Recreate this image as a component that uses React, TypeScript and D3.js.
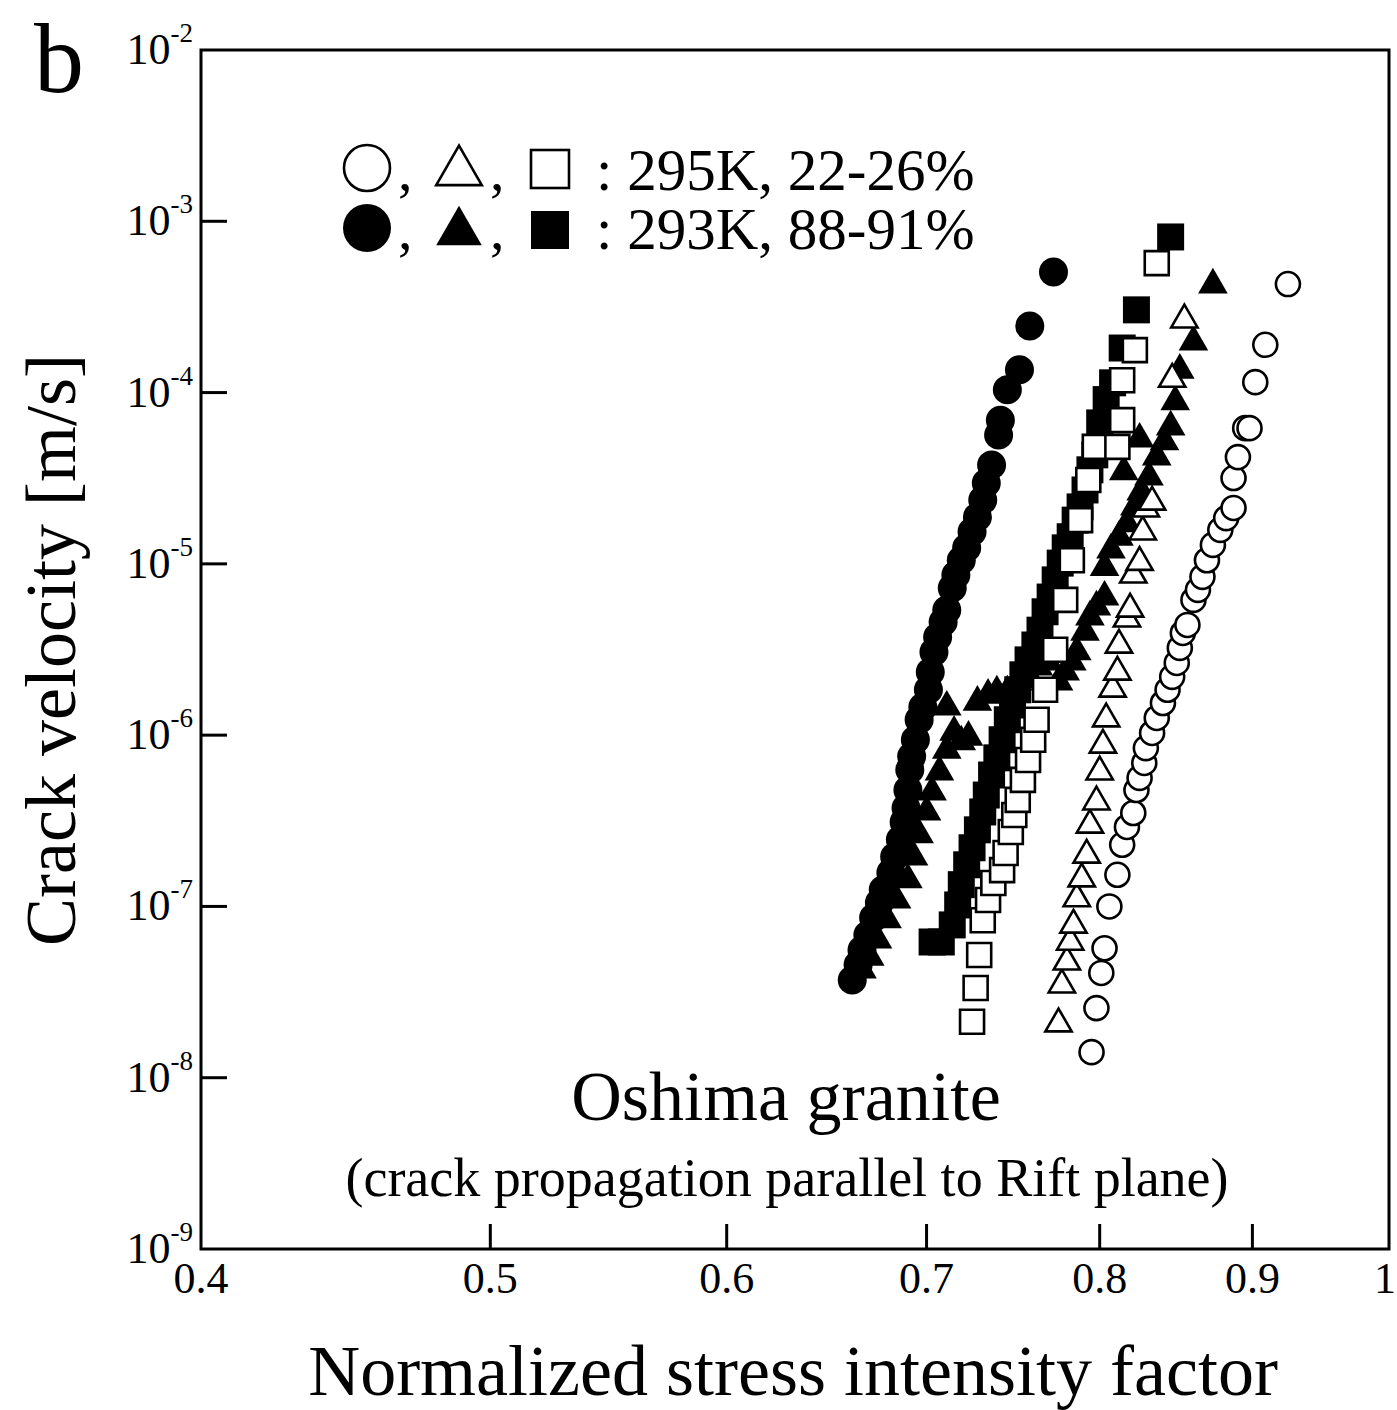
import React from "react";
import * as d3 from "d3";

// ---- Data (x: normalized stress intensity factor, y: crack velocity [m/s]) ----
const openCircles: [number, number][] = [
  [0.795, 1.41e-8], [0.798, 2.55e-8], [0.801, 4.09e-8], [0.803, 5.7e-8], [0.806, 1.0e-7],
  [0.811, 1.53e-7], [0.814, 2.29e-7], [0.817, 2.91e-7], [0.821, 3.51e-7], [0.823, 4.78e-7],
  [0.825, 5.63e-7], [0.828, 6.88e-7], [0.829, 8.4e-7], [0.833, 1.03e-6], [0.836, 1.26e-6],
  [0.84, 1.54e-6], [0.843, 1.84e-6], [0.846, 2.19e-6], [0.849, 2.64e-6], [0.851, 3.23e-6],
  [0.853, 3.95e-6], [0.856, 4.4e-6], [0.86, 6.16e-6], [0.863, 7.05e-6], [0.866, 8.4e-6],
  [0.869, 1.05e-5], [0.873, 1.29e-5], [0.878, 1.58e-5], [0.882, 1.85e-5], [0.887, 2.12e-5],
  [0.887, 3.17e-5], [0.89, 4.2e-5], [0.895, 6.2e-5], [0.898, 6.2e-5], [0.902, 1.15e-4],
  [0.909, 1.9e-4], [0.925, 4.3e-4],
];

const openTriangles: [number, number][] = [
  [0.775, 2.12e-8], [0.777, 3.58e-8], [0.78, 4.87e-8], [0.782, 6.36e-8], [0.784, 8.0e-8],
  [0.786, 1.14e-7], [0.789, 1.49e-7], [0.792, 2.05e-7], [0.794, 3.07e-7], [0.798, 4.19e-7],
  [0.8, 6.27e-7], [0.802, 9.0e-7], [0.804, 1.28e-6], [0.808, 1.91e-6], [0.811, 2.4e-6],
  [0.812, 3.45e-6], [0.817, 4.9e-6], [0.819, 5.6e-6], [0.821, 8.85e-6], [0.825, 1.05e-5],
  [0.827, 1.58e-5], [0.829, 2.15e-5], [0.833, 2.36e-5], [0.846, 1.23e-4], [0.854, 2.73e-4],
];

const openSquares: [number, number][] = [
  [0.725, 2.12e-8], [0.727, 3.34e-8], [0.729, 5.2e-8], [0.731, 8.3e-8], [0.734, 1.09e-7],
  [0.737, 1.37e-7], [0.742, 1.63e-7], [0.744, 2.05e-7], [0.747, 2.72e-7], [0.749, 3.42e-7],
  [0.751, 4.19e-7], [0.754, 5.48e-7], [0.757, 7.16e-7], [0.76, 9.4e-7], [0.762, 1.23e-6],
  [0.767, 1.84e-6], [0.773, 3.15e-6], [0.779, 6.16e-6], [0.783, 1.05e-5], [0.788, 1.8e-5],
  [0.793, 3.09e-5], [0.797, 4.82e-5], [0.811, 4.82e-5], [0.814, 6.9e-5], [0.814, 1.18e-4],
  [0.822, 1.77e-4], [0.836, 5.7e-4],
];

const filledCircles: [number, number][] = [
  [0.661, 3.72e-8], [0.664, 4.56e-8], [0.666, 5.57e-8], [0.669, 6.82e-8], [0.672, 8.6e-8],
  [0.675, 1.05e-7], [0.677, 1.25e-7], [0.681, 1.57e-7], [0.683, 1.95e-7], [0.686, 2.45e-7],
  [0.688, 3.11e-7], [0.689, 3.76e-7], [0.69, 4.78e-7], [0.691, 6.27e-7], [0.692, 7.5e-7],
  [0.694, 9.4e-7], [0.696, 1.23e-6], [0.698, 1.46e-6], [0.701, 1.84e-6], [0.702, 2.34e-6],
  [0.704, 3.06e-6], [0.706, 3.74e-6], [0.709, 4.58e-6], [0.711, 5.38e-6], [0.714, 7.24e-6],
  [0.716, 8.6e-6], [0.719, 1.05e-5], [0.722, 1.24e-5], [0.725, 1.54e-5], [0.728, 1.88e-5],
  [0.731, 2.36e-5], [0.733, 2.97e-5], [0.736, 3.78e-5], [0.74, 5.66e-5], [0.741, 6.9e-5],
  [0.745, 1.04e-4], [0.752, 1.36e-4], [0.758, 2.45e-4], [0.772, 5.06e-4],
];

const filledTriangles: [number, number][] = [
  [0.666, 4.38e-8], [0.67, 5.2e-8], [0.674, 6.55e-8], [0.679, 8.6e-8], [0.684, 1.12e-7],
  [0.69, 1.47e-7], [0.693, 2.0e-7], [0.696, 2.69e-7], [0.7, 3.66e-7], [0.703, 4.78e-7],
  [0.707, 6.27e-7], [0.711, 8.4e-7], [0.715, 1.07e-6], [0.711, 1.5e-6], [0.719, 9.4e-7],
  [0.723, 1.0e-6], [0.728, 1.6e-6], [0.734, 1.76e-6], [0.739, 1.84e-6], [0.745, 1.84e-6],
  [0.751, 2.1e-6], [0.757, 2.34e-6], [0.763, 2.57e-6], [0.769, 2.75e-6], [0.775, 2.1e-6],
  [0.779, 2.4e-6], [0.783, 2.75e-6], [0.786, 3.15e-6], [0.791, 4.1e-6], [0.794, 5.04e-6],
  [0.798, 5.76e-6], [0.803, 6.58e-6], [0.803, 9.8e-6], [0.807, 1.24e-5], [0.812, 1.47e-5],
  [0.815, 3.54e-5], [0.817, 1.76e-5], [0.822, 2.21e-5], [0.825, 5.5e-5], [0.826, 2.7e-5],
  [0.831, 3.3e-5], [0.836, 4.33e-5], [0.841, 5.3e-5], [0.845, 6.47e-5], [0.848, 9.1e-5],
  [0.851, 1.39e-4], [0.86, 2.03e-4], [0.873, 4.37e-4],
];

const filledSquares: [number, number][] = [
  [0.703, 6.2e-8], [0.708, 6.2e-8], [0.714, 7.8e-8], [0.717, 1.02e-7], [0.719, 1.34e-7],
  [0.722, 1.75e-7], [0.725, 2.2e-7], [0.728, 2.8e-7], [0.731, 3.56e-7], [0.733, 4.47e-7],
  [0.736, 5.85e-7], [0.739, 7.37e-7], [0.742, 9.4e-7], [0.745, 1.23e-6], [0.748, 1.5e-6],
  [0.751, 1.84e-6], [0.754, 2.25e-6], [0.757, 2.75e-6], [0.761, 3.36e-6], [0.764, 4.1e-6],
  [0.767, 5.25e-6], [0.77, 6.4e-6], [0.773, 8.06e-6], [0.776, 1.01e-5], [0.779, 1.24e-5],
  [0.782, 1.44e-5], [0.785, 1.8e-5], [0.788, 2.15e-5], [0.791, 2.7e-5], [0.794, 3.54e-5],
  [0.797, 4.33e-5], [0.8, 6.65e-5], [0.804, 9.1e-5], [0.808, 1.14e-4], [0.814, 1.82e-4],
  [0.823, 3.04e-4], [0.845, 8.1e-4],
];

const xTicks = [0.4, 0.5, 0.6, 0.7, 0.8, 0.9, 1];
const xTickLabels = ["0.4", "0.5", "0.6", "0.7", "0.8", "0.9", "1"];
const yExponents = [-2, -3, -4, -5, -6, -7, -8, -9];

const legendRows = [": 295K, 22-26%", ": 293K, 88-91%"];
const xTitle = "Normalized stress intensity factor";
const yTitle = "Crack velocity [m/s]";
const panelLabel = "b";
const noteTitle = "Oshima granite";
const noteSub = "(crack propagation parallel to Rift plane)";

const W = 1397;
const H = 1410;
const FONT = "'Liberation Serif', 'Times New Roman', serif";

export default function App() {
  const left = 201, right = 1389, top = 50, bottom = 1249;
  const x = d3.scaleLog().domain([0.4, 1]).range([left, right]);
  const y = d3.scaleLog().domain([1e-9, 1e-2]).range([bottom, top]);

  const circ = d3.symbol().type(d3.symbolCircle);
  const tri = d3.symbol().type(d3.symbolTriangle);
  const sq = d3.symbol().type(d3.symbolSquare);

  const openStyle = { fill: "#fff", stroke: "#000", strokeWidth: 2.6 };
  const fillStyle = { fill: "#000", stroke: "none" };

  const draw = (data: [number, number][], path: string | null, style: any, key: string, dy = 0) =>
    data.map((d, i) => (
      <path key={key + i} d={path || ""} transform={`translate(${x(d[0])},${y(d[1]) + dy})`} {...style} />
    ));

  const pFC = circ.size(Math.PI * 14.5 * 14.5)();
  const pOC = circ.size(Math.PI * 12 * 12)();
  const pFT = tri.size(380)();
  const pOT = tri.size(300)();
  const pFS = sq.size(27 * 27)();
  const pOS = sq.size(24 * 24)();
  const legTri = d3.symbol().type(d3.symbolTriangle).size(900)() || "";

  return (
    <svg width={W} height={H} style={{ position: "absolute", left: 0, top: 0, background: "#fff" }} fontFamily={FONT}>
      <rect x={0} y={0} width={W} height={H} fill="#fff" />
      {/* panel label */}
      <text x={34} y={92} fontSize={100}>{panelLabel}</text>

      {/* frame */}
      <rect x={left} y={top} width={right - left} height={bottom - top} fill="none" stroke="#000" strokeWidth={3} />

      {/* y ticks */}
      {yExponents.map((e) => {
        const yy = y(Math.pow(10, e));
        return (
          <g key={"yt" + e}>
            {e !== -2 && e !== -9 && <line x1={left} x2={left + 26} y1={yy} y2={yy} stroke="#000" strokeWidth={3} />}
            <text x={193} y={yy + 14} fontSize={44} textAnchor="end">
              10<tspan fontSize={27} dy={-22}>{"-" + Math.abs(e)}</tspan>
            </text>
          </g>
        );
      })}

      {/* x ticks */}
      {xTicks.map((t, i) => {
        const xx = x(t);
        const last = i === xTicks.length - 1;
        return (
          <g key={"xt" + t}>
            {i > 0 && !last && <line x1={xx} x2={xx} y1={bottom} y2={bottom - 25} stroke="#000" strokeWidth={3} />}
            <text x={last ? W - 1 : xx} y={1293} fontSize={44} textAnchor={last ? "end" : "middle"}>{xTickLabels[i]}</text>
          </g>
        );
      })}

      {/* axis titles */}
      <text x={793} y={1395} fontSize={72} textAnchor="middle">{xTitle}</text>
      <text transform="translate(75,650) rotate(-90)" fontSize={72} textAnchor="middle">{yTitle}</text>

      {/* annotations */}
      <text x={786} y={1120} fontSize={70} textAnchor="middle">{noteTitle}</text>
      <text x={787} y={1196} fontSize={54} textAnchor="middle">{noteSub}</text>

      {/* legend */}
      <g>
        <ellipse cx={367} cy={168} rx={23} ry={23} fill="#fff" stroke="#000" strokeWidth={2.6} />
        <text x={398} y={190} fontSize={58}>,</text>
        <path d={legTri} transform="translate(459,172)" fill="#fff" stroke="#000" strokeWidth={2.6} />
        <text x={490} y={190} fontSize={58}>,</text>
        <rect x={531} y={150} width={38} height={38} fill="#fff" stroke="#000" strokeWidth={2.6} />
        <text x={596} y={190} fontSize={59}>{legendRows[0]}</text>

        <ellipse cx={367} cy={228} rx={24} ry={24} fill="#000" />
        <text x={398} y={249} fontSize={58}>,</text>
        <path d={legTri} transform="translate(459,232)" fill="#000" />
        <text x={490} y={249} fontSize={58}>,</text>
        <rect x={531} y={211} width={38} height={38} fill="#000" />
        <text x={596} y={249} fontSize={59}>{legendRows[1]}</text>
      </g>

      {/* data */}
      <g>
        {draw(filledCircles, pFC, fillStyle, "fc")}
        {draw(filledTriangles, pFT, fillStyle, "ft", 2)}
        {draw(filledSquares, pFS, fillStyle, "fs")}
        {draw(openSquares, pOS, openStyle, "os")}
        {draw(openTriangles, pOT, openStyle, "ot", 2)}
        {draw(openCircles, pOC, openStyle, "oc")}
      </g>
    </svg>
  );
}
